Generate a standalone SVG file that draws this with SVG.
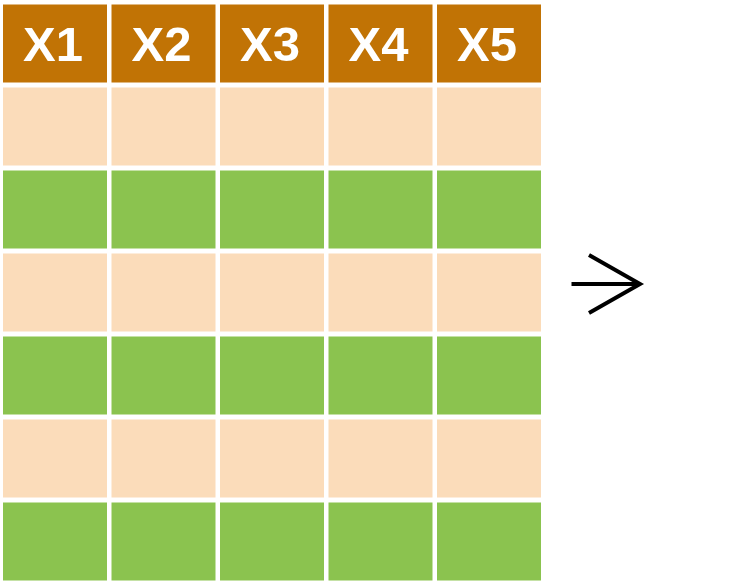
<svg xmlns="http://www.w3.org/2000/svg" width="740" height="585" viewBox="0 0 740 585">
<style>
.h{fill:#C17305}
.p{fill:#FBDCBA}
.g{fill:#8BC34F}
.t{font-family:"Liberation Sans",Arial,sans-serif;font-weight:bold;font-size:49px;fill:#FFFFFF;text-anchor:middle}
.a{fill:none;stroke:#000;stroke-width:4;stroke-linecap:butt}
</style>
<rect width="740" height="585" fill="#FFFFFF"/>
<g id="header">
<rect class="h" x="3" y="4.5" width="104" height="78"/>
<rect class="h" x="111.5" y="4.5" width="104" height="78"/>
<rect class="h" x="220" y="4.5" width="104" height="78"/>
<rect class="h" x="328.5" y="4.5" width="104" height="78"/>
<rect class="h" x="437" y="4.5" width="104" height="78"/>
<text class="t" x="53" y="60.5">X1</text>
<text class="t" x="161.5" y="60.5">X2</text>
<text class="t" x="270" y="60.5">X3</text>
<text class="t" x="378.5" y="60.5">X4</text>
<text class="t" x="487" y="60.5">X5</text>
</g>
<g id="row1">
<rect class="p" x="3" y="87.5" width="104" height="78"/>
<rect class="p" x="111.5" y="87.5" width="104" height="78"/>
<rect class="p" x="220" y="87.5" width="104" height="78"/>
<rect class="p" x="328.5" y="87.5" width="104" height="78"/>
<rect class="p" x="437" y="87.5" width="104" height="78"/>
</g>
<g id="row2">
<rect class="g" x="3" y="170.5" width="104" height="78"/>
<rect class="g" x="111.5" y="170.5" width="104" height="78"/>
<rect class="g" x="220" y="170.5" width="104" height="78"/>
<rect class="g" x="328.5" y="170.5" width="104" height="78"/>
<rect class="g" x="437" y="170.5" width="104" height="78"/>
</g>
<g id="row3">
<rect class="p" x="3" y="253.5" width="104" height="78"/>
<rect class="p" x="111.5" y="253.5" width="104" height="78"/>
<rect class="p" x="220" y="253.5" width="104" height="78"/>
<rect class="p" x="328.5" y="253.5" width="104" height="78"/>
<rect class="p" x="437" y="253.5" width="104" height="78"/>
</g>
<g id="row4">
<rect class="g" x="3" y="336.5" width="104" height="78"/>
<rect class="g" x="111.5" y="336.5" width="104" height="78"/>
<rect class="g" x="220" y="336.5" width="104" height="78"/>
<rect class="g" x="328.5" y="336.5" width="104" height="78"/>
<rect class="g" x="437" y="336.5" width="104" height="78"/>
</g>
<g id="row5">
<rect class="p" x="3" y="419.5" width="104" height="78"/>
<rect class="p" x="111.5" y="419.5" width="104" height="78"/>
<rect class="p" x="220" y="419.5" width="104" height="78"/>
<rect class="p" x="328.5" y="419.5" width="104" height="78"/>
<rect class="p" x="437" y="419.5" width="104" height="78"/>
</g>
<g id="row6">
<rect class="g" x="3" y="502.5" width="104" height="78"/>
<rect class="g" x="111.5" y="502.5" width="104" height="78"/>
<rect class="g" x="220" y="502.5" width="104" height="78"/>
<rect class="g" x="328.5" y="502.5" width="104" height="78"/>
<rect class="g" x="437" y="502.5" width="104" height="78"/>
</g>
<g id="connectors">
<path class="a" d="M571.5,284 H640"/>
<path class="a" d="M589,255 L640,284 L589,313" stroke-linejoin="miter"/>
</g>
</svg>
